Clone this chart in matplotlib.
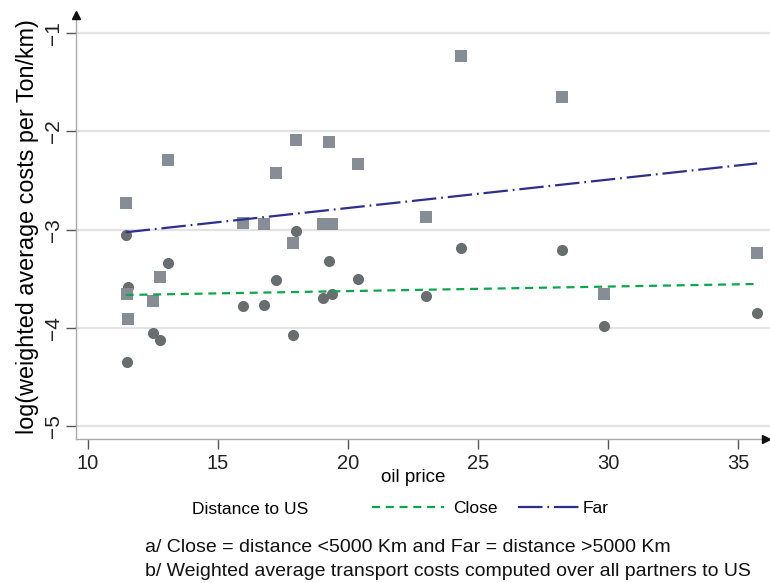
import matplotlib.pyplot as plt

plt.rcParams['font.family'] = ['Liberation Sans', 'DejaVu Sans']

# oil price per year, shared by both groups
oil_price = [11.45, 11.5, 11.55, 12.51, 12.77, 13.07, 15.95, 16.78, 17.22, 17.90,
             17.99, 19.04, 19.28, 19.37, 20.38, 23.0, 24.35, 28.25, 29.86, 35.74]
# log weighted average cost, close partners (circles)
close_cost = [-3.05, -4.35, -3.58, -4.05, -4.12, -3.34, -3.78, -3.77, -3.51, -4.07,
              -3.01, -3.70, -3.32, -3.66, -3.50, -3.68, -3.19, -3.21, -3.98, -3.85]
# log weighted average cost, far partners (squares)
far_cost = [-2.73, -3.65, -3.91, -3.73, -3.48, -2.29, -2.93, -2.94, -2.42, -3.14,
            -2.09, -2.94, -2.11, -2.94, -2.33, -2.87, -1.23, -1.65, -3.65, -3.24]

# fitted lines, read at both ends
fit_x = [11.45, 35.74]
close_fit = [-3.665, -3.553]
far_fit = [-3.027, -2.326]

xticks = [10, 15, 20, 25, 30, 35]
yticks = [-5, -4, -3, -2, -1]

fig = plt.figure(figsize=(7.7, 5.83), dpi=100)
ax = fig.add_axes([76 / 770, 1 - 439 / 583, 690 / 770, 424 / 583])

for y in yticks:
    ax.axhline(y, xmax=694 / 690, color='#e3e3e3', lw=1.6, zorder=0, clip_on=False)

ax.scatter(oil_price, close_cost, s=64, marker='o', color='#686d70', zorder=2, linewidths=0)
ax.scatter(oil_price, far_cost, s=76, marker='s', color='#878d94', zorder=3, linewidths=0)

close_line, = ax.plot(fit_x, close_fit, color='#0aa64c', lw=1.6,
                      linestyle=(0, (3.6, 2.6)), zorder=4)
far_line, = ax.plot(fit_x, far_fit, color='#2c2f8e', lw=1.6,
                    linestyle=(0, (11, 2.2, 0.8, 2.2)), zorder=4)

ax.set_xlim(9.54, 36.08)
ax.set_ylim(-5.13, -0.817)
ax.set_xticks(xticks)
ax.set_yticks(yticks)
ax.set_yticklabels([f'\u2212{abs(v)}' for v in yticks], rotation=90, va='center')

for side in ['top', 'right']:
    ax.spines[side].set_visible(False)
for side in ['left', 'bottom']:
    ax.spines[side].set_color('#a9a9a9')
    ax.spines[side].set_linewidth(1.0)
ax.tick_params(axis='both', direction='out', length=7, width=1.0, color='#555555',
               labelcolor='#222222')
ax.tick_params(axis='x', pad=4, labelsize=14.5)
ax.tick_params(axis='y', pad=2, labelsize=15)

# axis arrows
ax.plot([0], [1], marker='^', color='#111111', markersize=6, transform=ax.transAxes,
        clip_on=False, zorder=5)
ax.plot([1], [0], marker='>', color='#111111', markersize=6, transform=ax.transAxes,
        clip_on=False, zorder=5)

ax.set_ylabel('log(weighted average costs per Ton/km)', fontsize=16.8, labelpad=4)
fig.text(413 / 770, 1 - 477 / 583, 'oil price', fontsize=13.5, ha='center', va='center')

# legend row
fig.text(192 / 770, 1 - 509 / 583, 'Distance to US', fontsize=12.5, ha='left', va='center')
fig.legend(handles=[close_line], labels=['Close'],
           loc='center left', bbox_to_anchor=(372 / 770, 1 - 508 / 583),
           frameon=False, fontsize=12.5, handlelength=4.15, handletextpad=0.5,
           borderpad=0, borderaxespad=0)
fig.legend(handles=[far_line], labels=['Far'],
           loc='center left', bbox_to_anchor=(518 / 770, 1 - 508 / 583),
           frameon=False, fontsize=12.5, handlelength=3.6, handletextpad=0.1,
           borderpad=0, borderaxespad=0)

fig.text(145 / 770, 1 - 547 / 583,
         'a/ Close = distance <5000 Km and Far = distance >5000 Km',
         fontsize=14, ha='left', va='center', color='#111111')
fig.text(145 / 770, 1 - 571 / 583,
         'b/ Weighted average transport costs computed over all partners to US',
         fontsize=14, ha='left', va='center', color='#111111')

fig.savefig('out.png', dpi=100)
